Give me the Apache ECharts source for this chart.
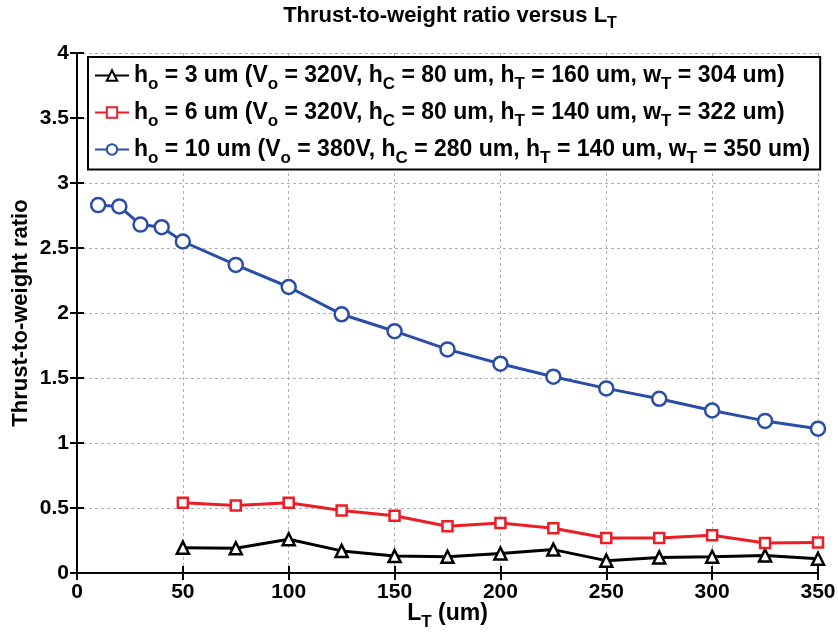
<!DOCTYPE html>
<html>
<head>
<meta charset="utf-8">
<script src="https://cdn.jsdelivr.net/npm/echarts@6/dist/echarts.min.js"></script>
<style>
html, body { margin: 0; padding: 0; background: #fff; }
#chart { width: 838px; height: 633px; }
</style>
</head>
<body>
<div id="chart"></div>
<script>
// 数据
const xBlue = [10, 20, 30, 40, 50, 75, 100, 125, 150, 175, 200, 225, 250, 275, 300, 325, 350];
const yBlue = [2.83, 2.82, 2.68, 2.66, 2.55, 2.37, 2.20, 1.99, 1.86, 1.72, 1.61, 1.51, 1.42, 1.34, 1.25, 1.17, 1.11];
const xRed = [50, 75, 100, 125, 150, 175, 200, 225, 250, 275, 300, 325, 350];
const yRed = [0.54, 0.52, 0.54, 0.48, 0.44, 0.36, 0.385, 0.345, 0.27, 0.27, 0.29, 0.23, 0.235];
const xBlack = [50, 75, 100, 125, 150, 175, 200, 225, 250, 275, 300, 325, 350];
const yBlack = [0.195, 0.19, 0.26, 0.17, 0.13, 0.125, 0.15, 0.18, 0.095, 0.12, 0.125, 0.135, 0.11];
const seriesNames = [
    'h_o = 3 um (V_o = 320V, h_C = 80 um, h_T = 160 um, w_T = 304 um)',
    'h_o = 6 um (V_o = 320V, h_C = 80 um, h_T = 140 um, w_T = 322 um)',
    'h_o = 10 um (V_o = 380V, h_C = 280 um, h_T = 140 um, w_T = 350 um)',
];

const font = 'Liberation Sans, Arial, sans-serif';
const zip = (xs, ys) => xs.map((x, i) => [x, ys[i]]);
// 把 "_x" 变成下标
const toRich = (s) => s.split(/_(\w)/).map((p, i) => (i % 2 ? '{s|' + p + '}' : p ? '{n|' + p + '}' : '')).join('');
const richText = (size) => ({
    n: { fontFamily: font, fontWeight: 'bold', fontSize: size, color: '#000' },
    s: { fontFamily: font, fontWeight: 'bold', fontSize: Math.round(size * 0.72), color: '#000', padding: [Math.round(size * 0.75), 0, 0, 0] },
});

const chart = echarts.init(document.getElementById('chart'));
const gridLine = { show: true, lineStyle: { color: '#b0b0b0', type: [3, 3], width: 1 } };
const tick = { show: true, inside: true, length: 7, lineStyle: { color: '#000', width: 2 } };
const tickLabel = { fontFamily: font, fontWeight: 'bold', fontSize: 21, color: '#000' };

chart.setOption({
    animation: false,
    title: {
        text: toRich('Thrust-to-weight ratio versus L_T'),
        left: 445, top: -6, textAlign: 'center',
        textStyle: { rich: richText(22) },
    },
    grid: { left: 77, right: 20, top: 53, bottom: 60, show: false, outerBoundsMode: 'none', containLabel: false },
    legend: {
        orient: 'vertical', left: 88, top: 57,
        backgroundColor: '#fff', borderColor: '#000', borderWidth: 2,
        padding: [7, 10, 3, 6], itemGap: 8.5, itemWidth: 34, itemHeight: 13,
        formatter: (name) => toRich(name),
        textStyle: { rich: richText(23) },
    },
    xAxis: [
        {
            type: 'value', min: 0, max: 350, interval: 50,
            name: toRich('L_T (um)'), nameLocation: 'middle', nameGap: 24, nameMoveOverlap: false,
            nameTextStyle: { rich: richText(23) },
            axisLine: { show: true, onZero: false, lineStyle: { color: '#000', width: 2 } },
            axisTick: tick, splitLine: gridLine,
            axisLabel: Object.assign({ margin: 9 }, tickLabel),
        },
        {
            type: 'value', position: 'top', min: 0, max: 350, interval: 50,
            axisLine: { show: true, lineStyle: { color: '#000', width: 2 } },
            axisTick: tick, axisLabel: { show: false }, splitLine: { show: false },
        },
    ],
    yAxis: [
        {
            type: 'value', min: 0, max: 4, interval: 0.5,
            name: 'Thrust-to-weight ratio', nameLocation: 'middle', nameGap: 45, nameMoveOverlap: false,
            nameTextStyle: { fontFamily: font, fontWeight: 'bold', fontSize: 22, color: '#000' },
            axisLine: { show: true, onZero: false, lineStyle: { color: '#000', width: 2 } },
            axisTick: tick, splitLine: gridLine,
            axisLabel: Object.assign({ margin: 8 }, tickLabel),
        },
        {
            type: 'value', position: 'right', min: 0, max: 4, interval: 0.5,
            axisLine: { show: true, lineStyle: { color: '#000', width: 2 } },
            axisTick: tick, axisLabel: { show: false }, splitLine: { show: false },
        },
    ],
    series: [
        {
            name: seriesNames[0], type: 'line', data: zip(xBlack, yBlack),
            symbol: 'triangle', symbolSize: 12,
            lineStyle: { color: '#000', width: 3 },
            itemStyle: { color: '#fff', borderColor: '#000', borderWidth: 2.5 },
        },
        {
            name: seriesNames[1], type: 'line', data: zip(xRed, yRed),
            symbol: 'rect', symbolSize: 10,
            lineStyle: { color: '#ee1c25', width: 3 },
            itemStyle: { color: '#fff', borderColor: '#ee1c25', borderWidth: 2.5 },
        },
        {
            name: seriesNames[2], type: 'line', data: zip(xBlue, yBlue),
            symbol: 'circle', symbolSize: 14,
            lineStyle: { color: '#2a4ea6', width: 3 },
            itemStyle: { color: '#fff', borderColor: '#2a4ea6', borderWidth: 2.5 },
        },
    ],
});
</script>
</body>
</html>
